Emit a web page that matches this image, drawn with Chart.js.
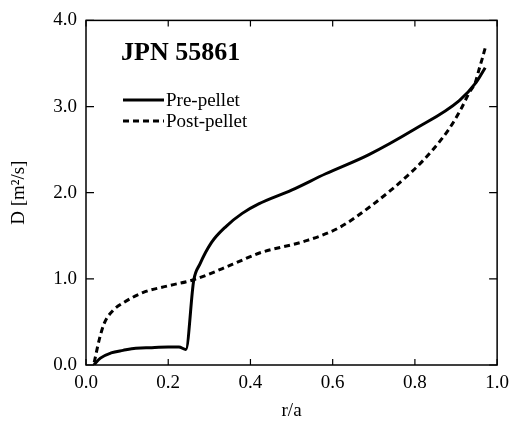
<!DOCTYPE html>
<html>
<head>
<meta charset="utf-8">
<script src="https://cdn.jsdelivr.net/npm/chart.js@4"></script>
<style>
  html, body { margin: 0; padding: 0; background: #fff; }
  #wrap { width: 516px; height: 427px; }
</style>
</head>
<body>
<div id="wrap"><canvas id="chart" width="516" height="427"></canvas></div>
<script>
// data
const preR = [0.019, 0.035, 0.061, 0.09, 0.121, 0.16, 0.2, 0.226, 0.243, 0.262, 0.277, 0.305, 0.341, 0.38, 0.42, 0.5, 0.583, 0.687, 0.80, 0.908, 0.949, 0.971];
const preD = [0.0, 0.08, 0.14, 0.17, 0.195, 0.20, 0.21, 0.21, 0.18, 0.98, 1.17, 1.42, 1.61, 1.76, 1.87, 2.03, 2.22, 2.44, 2.74, 3.07, 3.28, 3.45];
const postR = [0.02, 0.032, 0.044, 0.065, 0.09, 0.138, 0.201, 0.262, 0.357, 0.422, 0.534, 0.614, 0.697, 0.794, 0.842, 0.883, 0.912, 0.932, 0.947, 0.956, 0.964, 0.971];
const postD = [0.03, 0.29, 0.48, 0.63, 0.72, 0.84, 0.92, 0.99, 1.17, 1.30, 1.44, 1.59, 1.86, 2.25, 2.49, 2.74, 2.97, 3.16, 3.28, 3.43, 3.56, 3.68];
const xTicks = [0, 0.2, 0.4, 0.6, 0.8, 1.0];
const yTicks = [0, 1, 2, 3, 4];
const seriesNames = ["Pre-pellet", "Post-pellet"];
const plotTitle = "JPN 55861";

const serif = "'Liberation Serif', 'Times New Roman', serif";

function toPoints(xs, ys) {
  return xs.map((x, i) => ({ x: x, y: ys[i] }));
}

// frame, inward ticks, title text and legend
const decorations = {
  id: "decorations",
  afterDraw(chart) {
    const ctx = chart.ctx;
    const area = chart.chartArea;
    const xs = chart.scales.x;
    const ys = chart.scales.y;
    ctx.save();
    ctx.strokeStyle = "#000";
    ctx.lineWidth = 1.5;
    ctx.strokeRect(area.left, area.top, area.right - area.left, area.bottom - area.top);

    ctx.lineWidth = 1.2;
    ctx.beginPath();
    xTicks.forEach(v => {
      const px = xs.getPixelForValue(v);
      ctx.moveTo(px, area.bottom);
      ctx.lineTo(px, area.bottom - 6);
      ctx.moveTo(px, area.top);
      ctx.lineTo(px, area.top + 6);
    });
    yTicks.forEach(v => {
      const py = ys.getPixelForValue(v);
      ctx.moveTo(area.left, py);
      ctx.lineTo(area.left + 8, py);
      ctx.moveTo(area.right, py);
      ctx.lineTo(area.right - 8, py);
    });
    ctx.stroke();

    // title inside plot
    ctx.fillStyle = "#000";
    ctx.font = "bold 26px " + serif;
    ctx.textBaseline = "middle";
    ctx.textAlign = "left";
    ctx.fillText(plotTitle, 121, 53);

    // legend
    const rows = [100, 121];
    chart.data.datasets.forEach((ds, i) => {
      ctx.beginPath();
      ctx.lineWidth = ds.borderWidth;
      ctx.setLineDash(ds.borderDash || []);
      ctx.moveTo(123, rows[i]);
      ctx.lineTo(164, rows[i]);
      ctx.stroke();
      ctx.setLineDash([]);
      ctx.font = "19px " + serif;
      ctx.fillText(ds.label, 166, rows[i] + 1);
    });
    ctx.restore();
  }
};

new Chart(document.getElementById("chart"), {
  type: "line",
  data: {
    datasets: [
      {
        label: seriesNames[0],
        data: toPoints(preR, preD),
        borderColor: "#000",
        borderWidth: 3,
        pointRadius: 0,
        cubicInterpolationMode: "monotone",
        fill: false
      },
      {
        label: seriesNames[1],
        data: toPoints(postR, postD),
        borderColor: "#000",
        borderWidth: 3,
        borderDash: [6, 4],
        pointRadius: 0,
        cubicInterpolationMode: "monotone",
        fill: false
      }
    ]
  },
  options: {
    responsive: false,
    animation: false,
    devicePixelRatio: 1,
    layout: { padding: { left: 0, top: 17, right: 18, bottom: 0 } },
    plugins: {
      legend: { display: false },
      tooltip: { enabled: false }
    },
    scales: {
      x: {
        type: "linear",
        min: 0,
        max: 1,
        afterFit: s => { s.height = 62; },
        afterBuildTicks: s => { s.ticks = xTicks.map(v => ({ value: v })); },
        grid: { display: false, drawTicks: false },
        border: { display: false },
        ticks: {
          color: "#000",
          padding: 7,
          font: { family: serif, size: 19 },
          callback: v => v.toFixed(1)
        },
        title: {
          display: true,
          text: "r/a",
          color: "#000",
          font: { family: serif, size: 19 },
          padding: { top: 0, bottom: 5 }
        }
      },
      y: {
        type: "linear",
        min: 0,
        max: 4,
        afterFit: s => { s.width = 86; },
        afterBuildTicks: s => { s.ticks = yTicks.map(v => ({ value: v })); },
        grid: { display: false, drawTicks: false },
        border: { display: false },
        ticks: {
          color: "#000",
          padding: 9,
          font: { family: serif, size: 19 },
          callback: v => v.toFixed(1)
        },
        title: {
          display: true,
          text: "D [m²/s]",
          color: "#000",
          font: { family: serif, size: 19 },
          padding: { top: 8, bottom: 0 }
        }
      }
    }
  },
  plugins: [decorations]
});
</script>
</body>
</html>
